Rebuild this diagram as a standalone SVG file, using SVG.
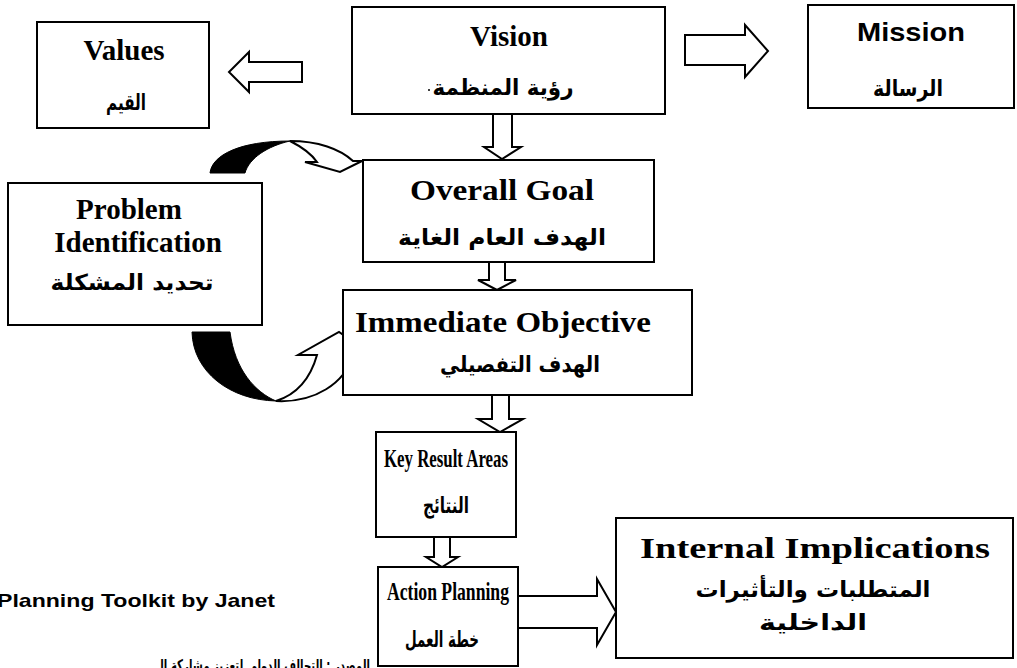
<svg xmlns="http://www.w3.org/2000/svg" width="1017" height="668" viewBox="0 0 1017 668">
  <style>
    .box { fill: #fff; stroke: #000; stroke-width: 2; }
    .en { font-family: "Liberation Serif", "Times New Roman", serif; font-weight: bold; font-size: 29px; text-anchor: middle; fill: #000; }
    .ensans { font-family: "Liberation Sans", Arial, sans-serif; font-weight: bold; font-size: 25px; text-anchor: middle; fill: #000; }
    .ar { font-family: "DejaVu Sans", sans-serif; font-weight: bold; font-size: 22px; text-anchor: middle; fill: #000; }
    .blk { fill: #fff; stroke: #000; stroke-width: 2; stroke-linejoin: miter; }
    .tail { fill: #000; stroke: #000; stroke-width: 1; }
    .note { font-family: "Liberation Sans", Arial, sans-serif; font-weight: bold; font-size: 19px; fill: #000; }
    .notear { font-family: "DejaVu Sans", sans-serif; font-weight: bold; font-size: 16px; fill: #000; text-anchor: end; }
  </style>
  <rect width="1017" height="668" fill="#fff"/>

  <!-- block arrows and curved feedback arrows -->
  <g id="connectors">
    <!-- Vision to Values -->
    <path class="blk" d="M302,62 L249,62 L249,52 L229,72 L249,92 L249,82 L302,82 Z"/>
    <!-- Vision to Mission -->
    <path class="blk" d="M685,35 L745,35 L745,25 L768,51 L745,77 L745,65 L685,65 Z"/>
    <!-- Vision to Overall Goal -->
    <path class="blk" d="M493,114 L493,147 L484,147 L502,159 L521,147 L512,147 L512,114"/>
    <!-- Overall Goal to Immediate Objective -->
    <path class="blk" d="M489,262 L489,280 L478,280 L497,290 L516,280 L505,280 L505,262"/>
    <!-- Immediate Objective to Key Result Areas -->
    <path class="blk" d="M492,395 L492,419 L478,419 L500,432 L523,419 L509,419 L509,395"/>
    <!-- Key Result Areas to Action Planning -->
    <path class="blk" d="M434,537 L434,557 L426,557 L442,567 L458,557 L450,557 L450,537"/>
    <!-- Action Planning to Internal Implications -->
    <path class="blk" d="M518,596 L597,596 L597,579 L616,612 L597,645 L597,628 L518,628"/>

    <!-- upper curved arrow: Problem Identification to Overall Goal -->
    <path class="tail" d="M210,173 C212,155 240,141 290,141 C268,146 249,158 245,173 Z"/>
    <path class="blk" d="M290,141 C318,141 340,149 353,161 L362,161 L340,172 L305,162 L317,162 C310,152 300,146 290,141 Z"/>

    <!-- lower curved arrow: Problem Identification to Immediate Objective -->
    <path class="tail" d="M192,332 C193,372 230,400 276,401 C255,392 235,370 230,332 Z"/>
    <path class="blk" d="M276,401 C315,403 345,383 353,355 L372,355 L339,332 L298,355 L317,355 C310,380 295,395 276,401 Z"/>
  </g>

  <g id="values">
    <rect class="box" x="37" y="22" width="172" height="106"/>
    <text class="en" x="124" y="60">Values</text>
    <text class="ar" x="126" y="110" textLength="40" lengthAdjust="spacingAndGlyphs">القيم</text>
  </g>

  <g id="vision">
    <rect class="box" x="352" y="7" width="313" height="107"/>
    <text class="en" x="509" y="46">Vision</text>
    <text class="ar" x="503" y="95" textLength="141" lengthAdjust="spacingAndGlyphs">رؤية المنظمة</text>
    <circle cx="429" cy="90" r="1" fill="#000"/>
  </g>

  <g id="mission">
    <rect class="box" x="808" y="5" width="206" height="103"/>
    <text class="ensans" x="911" y="41" textLength="108" lengthAdjust="spacingAndGlyphs">Mission</text>
    <text class="ar" x="908" y="96" textLength="70" lengthAdjust="spacingAndGlyphs">الرسالة</text>
  </g>

  <g id="overall-goal">
    <rect class="box" x="363" y="160" width="291" height="102"/>
    <text class="en" x="502" y="200" textLength="184" lengthAdjust="spacingAndGlyphs">Overall Goal</text>
    <text class="ar" x="502" y="245" textLength="208" lengthAdjust="spacingAndGlyphs">الهدف العام الغاية</text>
  </g>

  <g id="problem-identification">
    <rect class="box" x="8" y="183" width="254" height="142"/>
    <text class="en" x="129" y="219">Problem</text>
    <text class="en" x="138" y="252">Identification</text>
    <text class="ar" x="132" y="290" textLength="163" lengthAdjust="spacingAndGlyphs">تحديد المشكلة</text>
  </g>

  <g id="immediate-objective">
    <rect class="box" x="343" y="290" width="349" height="105"/>
    <text class="en" x="503" y="332" textLength="296" lengthAdjust="spacingAndGlyphs">Immediate Objective</text>
    <text class="ar" x="520" y="372" textLength="160" lengthAdjust="spacingAndGlyphs">الهدف التفصيلي</text>
  </g>

  <g id="key-result-areas">
    <rect class="box" x="376" y="432" width="140" height="105"/>
    <text class="en" x="446" y="467" style="font-size:26px" textLength="124" lengthAdjust="spacingAndGlyphs">Key Result Areas</text>
    <text class="ar" x="446" y="513" textLength="46" lengthAdjust="spacingAndGlyphs">النتائج</text>
  </g>

  <g id="action-planning">
    <rect class="box" x="378" y="567" width="140" height="99"/>
    <text class="en" x="448" y="600" style="font-size:26px" textLength="122" lengthAdjust="spacingAndGlyphs">Action Planning</text>
    <text class="ar" x="442" y="647" textLength="74" lengthAdjust="spacingAndGlyphs">خطة العمل</text>
  </g>

  <g id="internal-implications">
    <rect class="box" x="616" y="518" width="397" height="140"/>
    <text class="en" x="815" y="558" style="font-size:30px" textLength="350" lengthAdjust="spacingAndGlyphs">Internal Implications</text>
    <text class="ar" x="813" y="597" textLength="235" lengthAdjust="spacingAndGlyphs">المتطلبات والتأثيرات</text>
    <text class="ar" x="813" y="630" textLength="108" lengthAdjust="spacingAndGlyphs">الداخلية</text>
  </g>

  <g id="source-note">
    <text class="note" x="-3" y="607" textLength="278" lengthAdjust="spacingAndGlyphs">Planning Toolkit by Janet</text>
    <text class="notear" x="370" y="671" textLength="215" lengthAdjust="spacingAndGlyphs">المصدر : التحالف الدولي لتعزيز مشاركة ال</text>
  </g>
</svg>
